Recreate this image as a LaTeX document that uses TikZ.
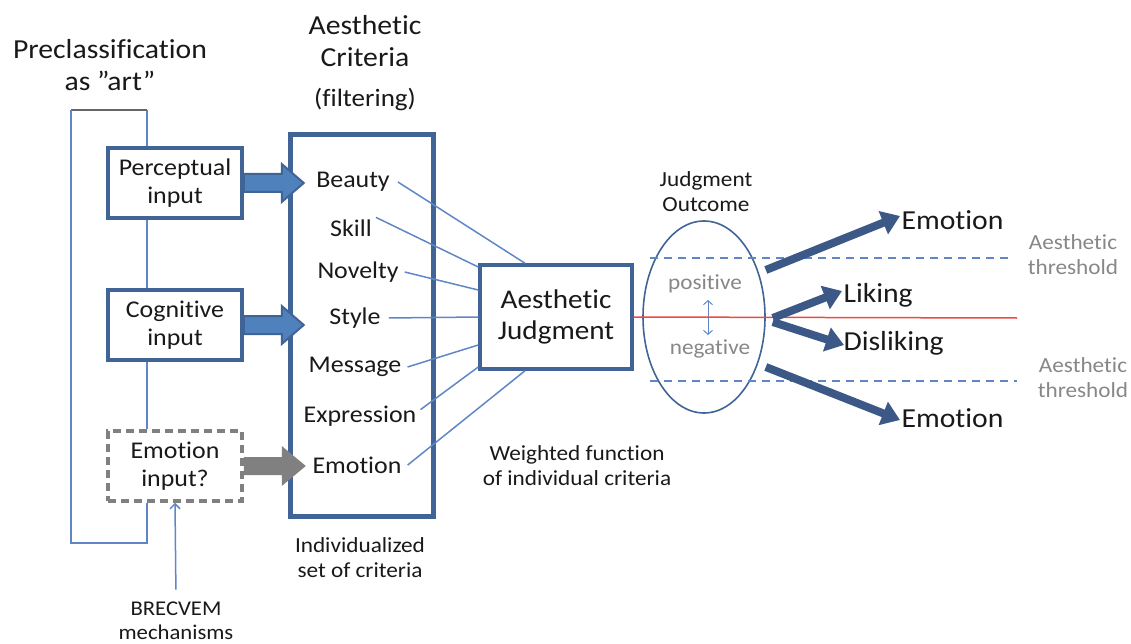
\documentclass[tikz,border=0pt]{standalone}
\usepackage{fontspec}
\setmainfont{Carlito}[FakeStretch=1.08, Ligatures=NoCommon]
\usetikzlibrary{shapes.geometric,arrows.meta}
\definecolor{boxblue}{RGB}{65,100,150}
\definecolor{fillblue}{RGB}{79,129,189}
\definecolor{lineblue}{RGB}{95,135,200}
\definecolor{darkarrow}{RGB}{60,88,135}
\definecolor{txtgray}{RGB}{135,135,135}
\definecolor{redline}{RGB}{235,75,65}
\definecolor{txt}{RGB}{25,25,25}
\begin{document}
\begin{tikzpicture}[x=1pt,y=-1pt,
	big/.style={font=\fontsize{24}{28}\selectfont, text=txt, align=center},
	head/.style={font=\fontsize{27.5}{32}\selectfont, text=txt, align=center},
	small/.style={font=\fontsize{21.5}{25}\selectfont, text=txt, align=center},
	inbox/.style={big, draw=boxblue, line width=3.5pt, minimum width=134pt, minimum height=70pt, inner sep=2pt},
	thin/.style={draw=lineblue, line width=1.5pt},
	blockarrow/.style={fill=fillblue, draw=boxblue, line width=2pt, line join=miter},
	fatarrow/.style={draw=darkarrow, line width=8pt, -{Triangle[width=24pt,length=18pt]}},
	crit/.style={big, inner sep=2pt}]
	\useasboundingbox (0,0) rectangle (1131,644);

	% headings
	\node[head] (precl) at (110,65) {Preclassification\\as ”art”};
	\node[head] (crithead) at (365,41) {Aesthetic\\Criteria};
	\node[head, font=\fontsize{25}{30}\selectfont] (filt) at (365,100) {(filtering)};

	% input boxes
	\node[inbox] (perc) at (175,183) {Perceptual\\input};
	\node[inbox] (cogn) at (175,325) {Cognitive\\input};
	\node[inbox, draw=gray, dashed, dash pattern=on 8pt off 5pt] (emin) at (175,466) {Emotion\\input?};

	% preclassification loop
	\coordinate (ltopr) at (147,110);
	\coordinate (ltopl) at (71,110);
	\coordinate (lbotl) at (71,543);
	\coordinate (lbotr) at (147,543);
	\draw[thin] (perc.north -| ltopr) -- (ltopr);
	\draw[gray!80!black, line width=1.5pt] (ltopr) -- (ltopl);
	\draw[thin] (ltopl) -- (lbotl) -- (lbotr) -- (emin.south -| lbotr);
	\draw[thin] (perc.south -| ltopr) -- (cogn.north -| ltopr);
	\draw[thin] (cogn.south -| ltopr) -- (emin.north -| ltopr);

	% criteria
	\node[draw=boxblue, line width=5pt, minimum width=143pt, minimum height=381pt] (crit) at (361.5,325.5) {};
	\node[crit] (beauty) at (353,182) {Beauty};
	\node[crit] (skill) at (351,228) {Skill};
	\node[crit] (novelty) at (358,272) {Novelty};
	\node[crit] (style) at (355,318) {Style};
	\node[crit] (message) at (355,367) {Message};
	\node[crit] (express) at (360,416) {Expression};
	\node[crit] (emocrit) at (357,465) {Emotion};
	\node[small] (indiv) at (360,558) {Individualized\\set of criteria};

	% block arrows into the criteria
	\filldraw[blockarrow] ([yshift=9pt]perc.east) -- ++(38,0) -- ++(0,-10) -- ++(22,19)
		-- ++(-22,19) -- ++(0,-10) -- ++(-38,0) -- cycle;
	\filldraw[blockarrow] ([yshift=9pt]cogn.east) -- ++(38,0) -- ++(0,-10) -- ++(22,19)
		-- ++(-22,19) -- ++(0,-10) -- ++(-38,0) -- cycle;
	\fill[gray] ([yshift=9pt]emin.east) -- ++(38,0) -- ++(0,-11) -- ++(24,20)
		-- ++(-24,20) -- ++(0,-11) -- ++(-38,0) -- cycle;

	\node[small, font=\fontsize{21}{24}\selectfont] (brec) at (176,621) {BRECVEM\\mechanisms};
	\draw[thin, -{Straight Barb[length=5pt,width=10pt]}, shorten <=9pt] (brec.north) -- (emin.south);

	% judgment
	\node[big, font=\fontsize{27}{31}\selectfont, draw=boxblue, line width=3.5pt, minimum width=152pt, minimum height=104pt] (judg) at (556,317) {Aesthetic\\Judgment};
	\node[small] (weight) at (577,466) {Weighted function\\of individual criteria};
	\draw[thin] ([xshift=6pt]beauty.east) -- ([xshift=-31pt]judg.north);
	\draw[thin] ([xshift=2pt]skill.north east) -- ([yshift=50pt]judg.west);
	\draw[thin] ([xshift=4pt]novelty.east) -- ([yshift=27pt]judg.west);
	\draw[thin] ([xshift=6pt]style.east) -- (judg.west);
	\draw[thin] ([xshift=4pt]message.east) -- ([yshift=-28pt]judg.west);
	\draw[thin] ([xshift=2pt,yshift=-6pt]express.north east) -- ([yshift=-50pt]judg.west);
	\draw[thin] ([xshift=4pt]emocrit.east) -- ([xshift=-31pt]judg.south);

	% outcome
	\node[ellipse, draw=boxblue, line width=1.6pt, minimum width=122pt, minimum height=192pt] (outc) at (704,317) {};
	\node[small] (jout) at (706,192) {Judgment\\Outcome};
	\node[small, text=txtgray] (pos) at (705,284) {positive};
	\node[small, text=txtgray] (neg) at (710,349) {negative};
	\draw[thin, line width=1pt, {Straight Barb[length=4pt,width=9pt]}-{Straight Barb[length=4pt,width=9pt]}] (708,300) -- (708,335);
	\draw[redline, line width=1.5pt] (judg.east) -- (1017,318);
	\draw[lineblue, line width=1.5pt, dash pattern=on 8pt off 6pt] (650,258) -- (1010,258);
	\draw[lineblue, line width=1.5pt, dash pattern=on 8pt off 6pt] (650,381) -- (1017,381);
	\node[small, text=txtgray] (thr1) at (1073,255) {Aesthetic\\threshold};
	\node[small, text=txtgray] (thr2) at (1083,378) {Aesthetic\\threshold};

	% results
	\node[big, font=\fontsize{27.5}{31}\selectfont, anchor=west] (emo1) at (898,220) {Emotion};
	\node[big, font=\fontsize{27.5}{31}\selectfont, anchor=west] (liking) at (840,295) {Liking};
	\node[big, font=\fontsize{27.5}{31}\selectfont, anchor=west] (disl) at (840,343) {Disliking};
	\node[big, font=\fontsize{27.5}{31}\selectfont, anchor=west] (emo2) at (898,418) {Emotion};
	\draw[fatarrow] ([yshift=47pt]outc.east) -- ([xshift=2pt,yshift=4pt]emo1.west);
	\draw[fatarrow] ([xshift=7pt,yshift=-1pt]outc.east) -- ([xshift=2pt,yshift=4pt]liking.west);
	\draw[fatarrow] ([xshift=7pt,yshift=-5pt]outc.east) -- ([xshift=4pt,yshift=-2pt]disl.west);
	\draw[fatarrow] ([yshift=-50pt]outc.east) -- ([xshift=2pt,yshift=-2pt]emo2.west);
\end{tikzpicture}
\end{document}
